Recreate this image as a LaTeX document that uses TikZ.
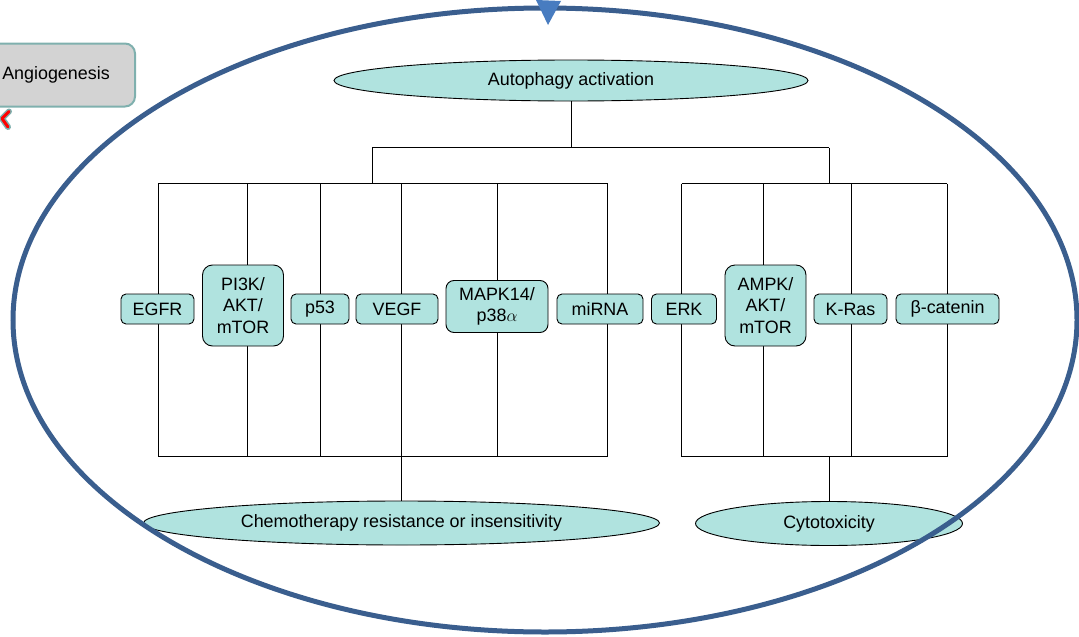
\documentclass[tikz,border=0pt]{standalone}
\usepackage{fontspec}
\setmainfont{Liberation Sans}
\usetikzlibrary{arrows}
\usetikzlibrary{shapes}

\definecolor{boxfill}{RGB}{176,227,223}
\definecolor{ringblue}{RGB}{58,94,142}
\definecolor{tipblue}{RGB}{72,124,192}
\definecolor{greyfill}{RGB}{211,211,211}
\definecolor{greyedge}{RGB}{127,176,174}

\begin{document}
\begin{tikzpicture}[x = 1pt, y = -1pt, font = \fontsize{17.9}{21.5}\selectfont]
	\tikzstyle{boxStyle} = [shape = rectangle, rounded corners = 5pt, draw, fill = boxfill, line width = 0.9pt, inner sep = 0pt, align = center]
	\tikzstyle{tallStyle} = [boxStyle, rounded corners = 10pt]
	\tikzstyle{ovalStyle} = [shape = ellipse, draw, fill = boxfill, line width = 0.9pt, inner sep = 0pt]
	\tikzstyle{EdgeStyle} = [line width = 0.9pt]
	\useasboundingbox (0,0) rectangle (1079,637);
	% bracket corners
	\foreach \i/\x in {0/158, 1/247, 2/320.5, 3/401.5, 4/497, 5/607.5, 6/681.5, 7/763, 8/851, 9/947} {
		\coordinate (t\i) at (\x, 183.5);
		\coordinate (b\i) at (\x, 456.5);
	}
	\coordinate (j0) at (571, 147.5);
	\coordinate (j1) at (372, 147.5);
	\coordinate (j2) at (829, 147.5);
	\coordinate (k1) at (372, 183.5);
	\coordinate (k2) at (829, 183.5);
	\coordinate (k3) at (829, 456.5);
	\draw[EdgeStyle] (t0) -- (t5);
	\draw[EdgeStyle] (b0) -- (b5);
	\draw[EdgeStyle] (t6) -- (t9);
	\draw[EdgeStyle] (b6) -- (b9);
	\foreach \i in {0,...,9}
		\draw[EdgeStyle] (t\i) -- (b\i);
	\draw[EdgeStyle] (j1) -- (j2);
	\draw[EdgeStyle] (j1) -- (k1);
	\draw[EdgeStyle] (j2) -- (k2);
	% markers
	\node[boxStyle, minimum width = 73pt, minimum height = 30pt] (v0) at (157.5, 309) {EGFR};
	\node[tallStyle, minimum width = 81pt, minimum height = 81pt] (v1) at (243, 305.5) {PI3K/\\AKT/\\mTOR};
	\node[boxStyle, minimum width = 58pt, minimum height = 30pt] (v2) at (320, 309) {p53};
	\node[boxStyle, minimum width = 82pt, minimum height = 30pt] (v3) at (397, 309) {VEGF};
	\node[boxStyle, rounded corners = 8pt, minimum width = 102pt, minimum height = 52pt] (v4) at (497, 306.5) {MAPK14/\\p38$\alpha$};
	\node[boxStyle, minimum width = 86pt, minimum height = 30pt] (v5) at (600, 309) {miRNA};
	\node[boxStyle, minimum width = 65pt, minimum height = 30pt] (v6) at (684, 309) {ERK};
	\node[tallStyle, minimum width = 81pt, minimum height = 81pt] (v7) at (765.5, 305.5) {AMPK/\\AKT/\\mTOR};
	\node[boxStyle, minimum width = 73pt, minimum height = 30pt] (v8) at (850.5, 309) {K-Ras};
	\node[boxStyle, minimum width = 103pt, minimum height = 30pt] (v9) at (947.5, 309) {β-catenin};
	% outcomes
	\node[ovalStyle, minimum width = 474pt, minimum height = 41pt] (u0) at (571, 80.5) {Autophagy activation};
	\node[ovalStyle, minimum width = 516pt, minimum height = 44pt] (u1) at (401.5, 523) {Chemotherapy resistance or insensitivity};
	\node[ovalStyle, minimum width = 267pt, minimum height = 44pt] (u2) at (829, 523.5) {Cytotoxicity};
	\draw[EdgeStyle] (u0) -- (j0);
	\draw[EdgeStyle] (b3) -- (u1);
	\draw[EdgeStyle] (k3) -- (u2);
	% side box
	\node[shape = rectangle, rounded corners = 10pt, draw = greyedge, fill = greyfill, line width = 2pt, minimum width = 158pt, minimum height = 63pt] (w0) at (56, 75) {Angiogenesis};
	\draw[greyedge, line width = 6pt, line cap = round, line join = round] (9,111.5) -- (2,118.5) -- (8,127);
	\draw[red, line width = 3pt, line cap = round, line join = round] (9,111.5) -- (2,118.5) -- (8,127);
	% outer ring
	\draw[ringblue, line width = 5pt] (545,320) ellipse (532 and 312);
	\fill[tipblue] (536,0) -- (561,1) -- (548,25) -- cycle;
\end{tikzpicture}
\end{document}
